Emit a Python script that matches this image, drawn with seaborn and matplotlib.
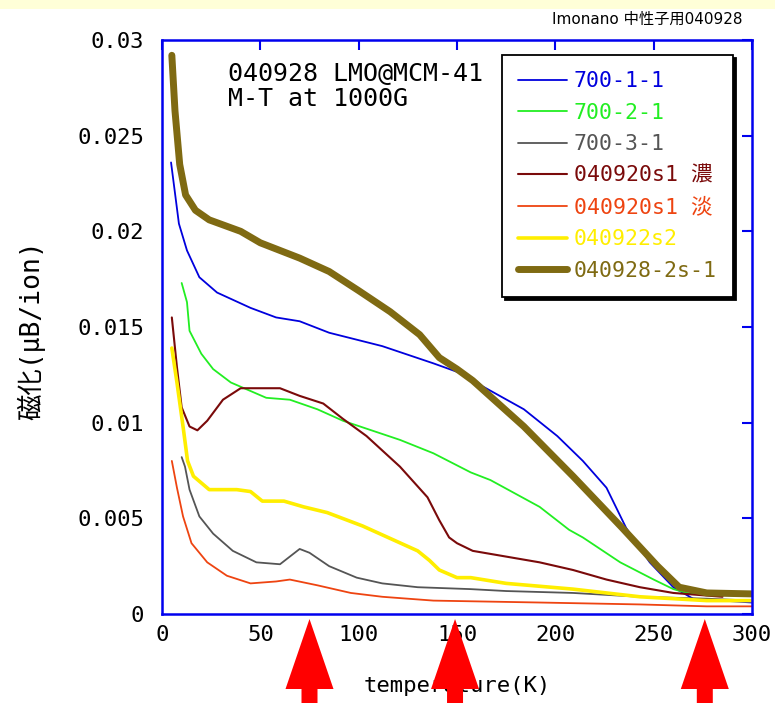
import numpy as np
import pandas as pd
import matplotlib
matplotlib.use("Agg")
import matplotlib.pyplot as plt
import matplotlib.transforms as mtransforms
from matplotlib.patches import Polygon, Rectangle
import seaborn as sns

# ---------------- data ----------------
T_blue = [4.6, 6.6, 8.6, 12.7, 19, 28, 45, 58, 70, 85, 112, 138, 157, 163, 184, 201, 214, 226, 236, 248, 260, 270, 285, 300]
M_blue = [0.0236, 0.0220, 0.0204, 0.0190, 0.0176, 0.0168, 0.0160, 0.0155, 0.0153, 0.0147, 0.0140, 0.0131, 0.0124, 0.0119, 0.0107, 0.0093, 0.0080, 0.0066, 0.0045, 0.0027, 0.0014, 0.0008, 0.0007, 0.0006]

T_green = [10, 12.7, 14, 20, 26, 35, 53, 65, 79, 92, 121, 138, 157, 167, 192, 207, 214, 233, 250, 260, 267, 275]
M_green = [0.0173, 0.0163, 0.0148, 0.0136, 0.0128, 0.0121, 0.0113, 0.0112, 0.0107, 0.0101, 0.0091, 0.0084, 0.0074, 0.0070, 0.0056, 0.0044, 0.0040, 0.0027, 0.0018, 0.0013, 0.0011, 0.0010]

T_gray = [10, 11.7, 14, 19, 26, 36, 48, 60, 65, 70, 75, 85, 99, 112, 130, 157, 175, 209, 243, 277, 300]
M_gray = [0.0082, 0.0077, 0.0065, 0.0051, 0.0042, 0.0033, 0.0027, 0.0026, 0.0030, 0.0034, 0.0032, 0.0025, 0.0019, 0.0016, 0.0014, 0.0013, 0.0012, 0.0011, 0.0009, 0.0008, 0.0007]

T_maroon = [5, 7.6, 10, 14, 18, 23, 31, 40, 50, 60, 70, 82, 92, 104, 121, 135, 141, 146, 150, 158, 175, 192, 209, 226, 243, 260, 285]
M_maroon = [0.0155, 0.0129, 0.0108, 0.0098, 0.0096, 0.0101, 0.0112, 0.0118, 0.0118, 0.0118, 0.0114, 0.0110, 0.0102, 0.0093, 0.0077, 0.0061, 0.0049, 0.0040, 0.0037, 0.0033, 0.0030, 0.0027, 0.0023, 0.0018, 0.0014, 0.0011, 0.0009]

T_orange = [5, 7.6, 10.7, 15, 23, 33, 45, 58, 65, 79, 96, 112, 138, 192, 243, 277, 300]
M_orange = [0.0080, 0.0066, 0.0051, 0.0037, 0.0027, 0.0020, 0.0016, 0.0017, 0.0018, 0.0015, 0.0011, 0.0009, 0.0007, 0.0006, 0.0005, 0.0004, 0.0004]

T_yellow = [5, 7.6, 10.7, 13, 16, 24, 38, 45, 51, 62, 72, 84, 102, 130, 136, 141, 150, 157, 175, 209, 243, 277, 300]
M_yellow = [0.0139, 0.0121, 0.0098, 0.0080, 0.0072, 0.0065, 0.0065, 0.0064, 0.0059, 0.0059, 0.0056, 0.0053, 0.0046, 0.0033, 0.0028, 0.0023, 0.0019, 0.0019, 0.0016, 0.0013, 0.0009, 0.0007, 0.0007]

T_brown = [5, 6.6, 9, 12, 17, 24, 40, 50, 70, 85, 100, 116, 131, 141, 150, 158, 184, 209, 234, 252, 263, 277, 300]
M_brown = [0.0292, 0.0263, 0.0235, 0.0219, 0.0211, 0.0206, 0.0200, 0.0194, 0.0186, 0.0179, 0.0169, 0.0158, 0.0146, 0.0134, 0.0128, 0.0122, 0.0098, 0.0072, 0.0045, 0.0025, 0.0014, 0.0011, 0.00105]

labels = ["700-1-1", "700-2-1", "700-3-1", "040920s1 濃", "040920s1 淡", "040922s2", "040928-2s-1"]
colors = ["#0000DD", "#22EE22", "#555555", "#7A0A0A", "#EE4411", "#FFEE00", "#7F6A12"]
widths = [1.3, 1.3, 1.3, 1.5, 1.3, 2.6, 5.0]
series_T = [T_blue, T_green, T_gray, T_maroon, T_orange, T_yellow, T_brown]
series_M = [M_blue, M_green, M_gray, M_maroon, M_orange, M_yellow, M_brown]

xticks = [0, 50, 100, 150, 200, 250, 300]
yticks = [0, 0.005, 0.01, 0.015, 0.02, 0.025, 0.03]
ytick_labels = ["0", "0.005", "0.01", "0.015", "0.02", "0.025", "0.03"]
arrow_T = [75, 149, 276]

# ---------------- style ----------------
sns.set_theme(style="white")
mono = ["DejaVu Sans Mono", "Noto Sans CJK JP"]
plt.rcParams["font.family"] = mono

fig = plt.figure(figsize=(7.75, 7.03), dpi=100, facecolor="white")
ax = fig.add_axes([162 / 775, 89 / 703, 590 / 775, 574 / 703])
ax.set_facecolor("white")

# yellowish strip at top of the screenshot
fig.patches.append(Rectangle((0, 1 - 9 / 703), 1, 9 / 703, transform=fig.transFigure,
                             facecolor="#FFFFD8", edgecolor="none", zorder=0))

for T, M, lab, c, lw in zip(series_T, series_M, labels, colors, widths):
    df = pd.DataFrame({"T": T, "M": M})
    sns.lineplot(data=df, x="T", y="M", ax=ax, color=c, linewidth=lw, label=lab,
                 estimator=None, sort=False)

ax.set_xlim(0, 300)
ax.set_ylim(0, 0.03)
ax.set_xticks(xticks)
ax.set_xticklabels([str(v) for v in xticks])
ax.set_yticks(yticks)
ax.set_yticklabels(ytick_labels)

blue = "#0000EE"
for s in ax.spines.values():
    s.set_color(blue)
    s.set_linewidth(1.8)
ax.tick_params(axis="both", direction="in", length=7, width=1.5, color=blue,
               top=True, right=True, labelsize=16, labelcolor="black")
ax.tick_params(axis="y", pad=13)
ax.tick_params(axis="x", pad=8)

ax.set_xlabel("temperature(K)", fontsize=16, color="black")
ax.xaxis.set_label_coords(0.5, -0.108)
ax.set_ylabel("磁化(μB/ion)", fontsize=19, color="black", family=mono)
ax.yaxis.set_label_coords(-0.198, 0.495)

ax.text(0.112, 0.962, "040928 LMO@MCM-41\nM-T at 1000G", transform=ax.transAxes,
        ha="left", va="top", fontsize=18, linespacing=1.05, color="black")

fig.text(742 / 775, 1 - 19 / 703, "Imonano 中性子用040928", ha="right", va="center",
         fontsize=11, family=["DejaVu Sans", "Noto Sans CJK JP"], color="black")

leg = ax.legend(loc="upper left", bbox_to_anchor=(0.576, 0.974), fontsize=15.5,
                frameon=True, fancybox=False, framealpha=1, edgecolor="black",
                shadow={"color": "black", "alpha": 1}, labelcolor="linecolor",
                handlelength=2.3, handletextpad=0.3, labelspacing=0.54,
                borderpad=0.75, borderaxespad=0)
leg.get_frame().set_linewidth(1.3)
for t in leg.get_texts():
    t.set_family(mono)

# red arrows pointing at the transition temperatures
tr = mtransforms.blended_transform_factory(ax.transData, fig.transFigure)
k = 300 / 590  # data units per pixel in x
for xa in arrow_T:
    tip = 84 / 703
    base = 14 / 703
    poly = [(xa, tip), (xa - 24 * k, base), (xa - 8 * k, base), (xa - 8 * k, -0.01),
            (xa + 8 * k, -0.01), (xa + 8 * k, base), (xa + 24 * k, base)]
    p = Polygon(poly, closed=True, transform=tr, facecolor="#FF0000", edgecolor="none",
                zorder=10, clip_on=False)
    fig.patches.append(p)

fig.savefig("out.png", dpi=100, facecolor=fig.get_facecolor())
